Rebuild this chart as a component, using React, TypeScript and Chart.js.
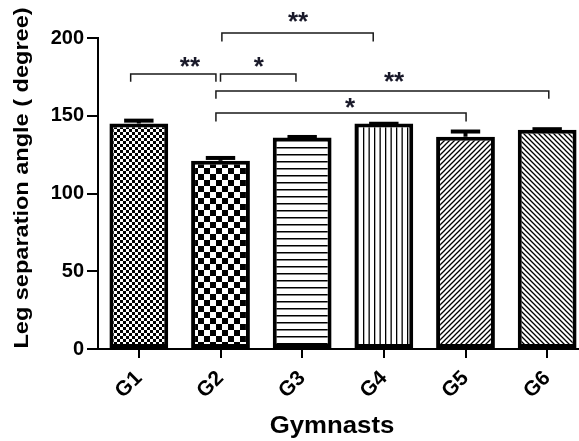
import React, { useEffect, useRef } from "react";
import { Chart, registerables } from "chart.js";

Chart.register(...registerables);

// ---- data ----
const categories = ["G1", "G2", "G3", "G4", "G5", "G6"];
const means = [145, 121, 136, 145, 136.5, 141];
const errors = [2.5, 2.5, 1, 0.5, 4, 1];
const yTicks = [0, 50, 100, 150, 200];
const fills = ["fineChecker", "checker", "hLines", "vLines", "diagUp", "diagDown"];
// significance brackets: category index span, level (data units), drop (data units), label, label position
const bracketFrom = [-0.1, 1.0, 1.017, 0.944, 0.944];
const bracketTo = [0.944, 1.924, 2.87, 5.02, 4.007];
const bracketLevel = [176.8, 176.8, 203.2, 165.9, 151.8];
const bracketDrop = [5, 5, 5.5, 5, 5.5];
const bracketLabel = ["**", "*", "**", "**", "*"];
const bracketLabelX = [0.625, 1.47, 1.95, 3.125, 2.586];
const bracketLabelY = [184.6, 184.6, 213.5, 174.9, 158.2];

const yTitle = "Leg separation angle ( degree)";
const xTitle = "Gymnasts";
const FONT = "Arial, 'Liberation Sans', sans-serif";

function makePattern(kind: string): CanvasPattern | string {
  const c = document.createElement("canvas");
  let w = 6, h = 6;
  if (kind === "fineChecker") { w = 6; h = 6; }
  if (kind === "checker") { w = 12; h = 12; }
  if (kind === "hLines") { w = 4; h = 7; }
  if (kind === "vLines") { w = 11; h = 4; }
  if (kind === "diagUp" || kind === "diagDown") { w = 5; h = 5; }
  c.width = w; c.height = h;
  const g = c.getContext("2d")!;
  g.fillStyle = "#fff";
  g.fillRect(0, 0, w, h);
  g.fillStyle = "#000";
  g.strokeStyle = "#000";
  if (kind === "fineChecker") {
    g.fillRect(0, 0, 3, 3);
    g.fillRect(3, 3, 3, 3);
  } else if (kind === "checker") {
    g.fillRect(0, 0, 6, 6);
    g.fillRect(6, 6, 6, 6);
  } else if (kind === "hLines") {
    g.fillRect(0, 0, w, 1.5);
  } else if (kind === "vLines") {
    g.fillRect(0, 0, 1.3, h);
    g.fillRect(5.5, 0, 1.3, h);
  } else if (kind === "diagUp") {
    g.lineWidth = 1.3;
    g.beginPath();
    g.moveTo(-1, h + 1); g.lineTo(w + 1, -1);
    g.moveTo(-1, 1); g.lineTo(1, -1);
    g.moveTo(w - 1, h + 1); g.lineTo(w + 1, h - 1);
    g.stroke();
  } else if (kind === "diagDown") {
    g.lineWidth = 1.3;
    g.beginPath();
    g.moveTo(-1, -1); g.lineTo(w + 1, h + 1);
    g.moveTo(w - 1, -1); g.lineTo(w + 1, 1);
    g.moveTo(-1, h - 1); g.lineTo(1, h + 1);
    g.stroke();
  }
  const p = g.createPattern(c, "repeat");
  return p || "#888";
}

const overlayPlugin = {
  id: "overlay",
  afterDatasetsDraw(chart: any) {
    const ctx = chart.ctx as CanvasRenderingContext2D;
    const xs = chart.scales.x;
    const ys = chart.scales.y;
    const meta = chart.getDatasetMeta(0);
    ctx.save();
    // error bars (upper only)
    ctx.strokeStyle = "#000";
    ctx.lineWidth = 4;
    ctx.lineCap = "butt";
    meta.data.forEach((el: any, i: number) => {
      const x = el.x;
      const yb = ys.getPixelForValue(means[i]);
      const yt = ys.getPixelForValue(means[i] + errors[i]);
      const half = el.width * 0.25;
      ctx.beginPath();
      ctx.moveTo(x, yb);
      ctx.lineTo(x, yt);
      ctx.stroke();
      ctx.beginPath();
      ctx.moveTo(x - half, yt + 1);
      ctx.lineTo(x + half, yt + 1);
      ctx.stroke();
    });
    // brackets
    ctx.lineWidth = 1.5;
    ctx.strokeStyle = "#1a1a1a";
    bracketFrom.forEach((f, i) => {
      const x1 = xs.getPixelForValue(f);
      const x2 = xs.getPixelForValue(bracketTo[i]);
      const yl = ys.getPixelForValue(bracketLevel[i]);
      const yd = ys.getPixelForValue(bracketLevel[i] - bracketDrop[i]);
      ctx.beginPath();
      ctx.moveTo(x1, yd);
      ctx.lineTo(x1, yl);
      ctx.lineTo(x2, yl);
      ctx.lineTo(x2, yd);
      ctx.stroke();
      ctx.fillStyle = "#1a1a2a";
      ctx.font = `bold 26px ${FONT}`;
      ctx.textAlign = "center";
      ctx.textBaseline = "alphabetic";
      const m = ctx.measureText(bracketLabel[i]);
      const cy = ys.getPixelForValue(bracketLabelY[i]);
      const lx = xs.getPixelForValue(bracketLabelX[i]);
      ctx.fillText(bracketLabel[i], lx, cy + (m.actualBoundingBoxAscent - m.actualBoundingBoxDescent) / 2);
    });
    ctx.restore();
  },
  afterDraw(chart: any) {
    const ctx = chart.ctx as CanvasRenderingContext2D;
    ctx.save();
    ctx.fillStyle = "#000";
    ctx.textAlign = "center";
    ctx.textBaseline = "alphabetic";
    // y title
    ctx.save();
    ctx.translate(28, 178);
    ctx.rotate(-Math.PI / 2);
    ctx.scale(1.12, 1);
    ctx.font = `bold 21px ${FONT}`;
    ctx.fillText(yTitle, 0, 0);
    ctx.restore();
    // x title
    ctx.save();
    ctx.translate(332, 433);
    ctx.scale(1.12, 1);
    ctx.font = `bold 23px ${FONT}`;
    ctx.fillText(xTitle, 0, 0);
    ctx.restore();
    ctx.restore();
  },
};

export default function App() {
  const ref = useRef<HTMLCanvasElement | null>(null);
  useEffect(() => {
    document.body.style.margin = "0";
    const canvas = ref.current!;
    const chart = new Chart(canvas, {
      type: "bar",
      data: {
        labels: categories,
        datasets: [
          {
            data: means,
            backgroundColor: fills.map((k) => makePattern(k)) as any,
            borderColor: "#000",
            borderWidth: 4,
            borderSkipped: false,
            barPercentage: 0.72,
            categoryPercentage: 1,
          },
        ],
      },
      options: {
        animation: false,
        responsive: false,
        devicePixelRatio: 1,
        layout: { padding: { top: 38, left: 0, right: 0, bottom: 0 } },
        plugins: { legend: { display: false }, tooltip: { enabled: false }, title: { display: false } },
        scales: {
          x: {
            type: "category",
            offset: true,
            grid: { display: true, drawOnChartArea: false, drawTicks: true, tickLength: 9, color: "#000", lineWidth: 2, offset: false },
            border: { display: true, color: "#000", width: 2 },
            ticks: {
              color: "#000",
              font: { family: FONT, size: 21, weight: "bold" },
              minRotation: 45,
              maxRotation: 45,
              autoSkip: false,
              padding: 8,
            },
            afterFit: (s: any) => { s.height = 92; },
          },
          y: {
            min: 0,
            max: 200,
            afterBuildTicks: (s: any) => { s.ticks = yTicks.map((v) => ({ value: v })); },
            grid: { display: true, drawOnChartArea: false, drawTicks: true, tickLength: 11, color: "#000", lineWidth: 2 },
            border: { display: true, color: "#000", width: 2 },
            ticks: { color: "#000", font: { family: FONT, size: 20, weight: "bold" }, padding: 3 },
            afterFit: (s: any) => { s.width = 98; },
          },
        },
      },
      plugins: [overlayPlugin],
    });
    return () => chart.destroy();
  }, []);
  return (
    <div style={{ width: 579, height: 441, overflow: "hidden", background: "#fff" }}>
      <canvas ref={ref} width={588} height={441} style={{ display: "block" }} />
    </div>
  );
}
